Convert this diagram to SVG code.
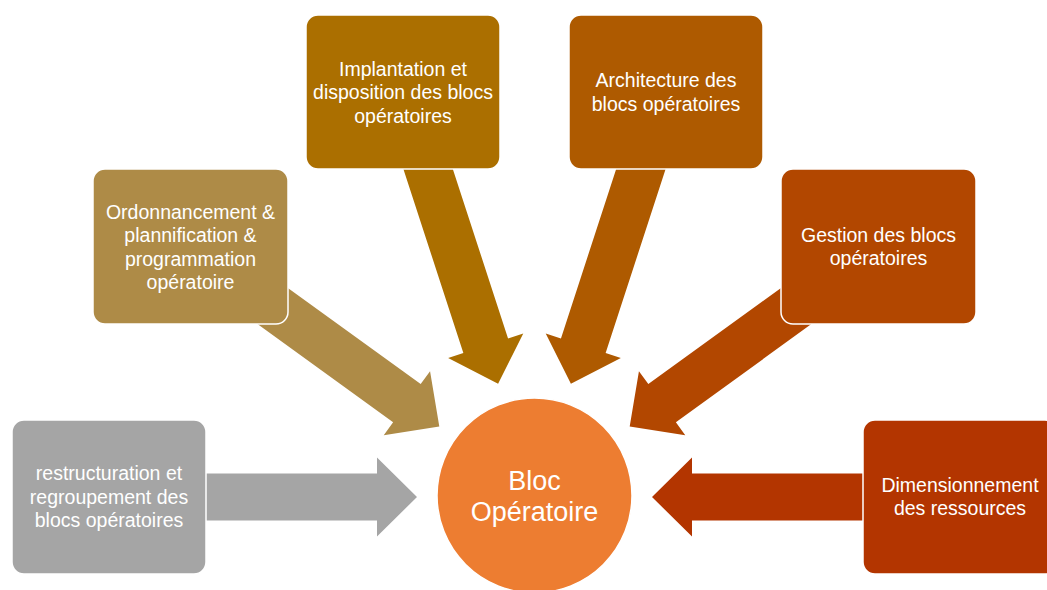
<svg xmlns="http://www.w3.org/2000/svg" width="1047" height="590" viewBox="0 0 1047 590">
<defs>
<style>
.box{stroke:#ffffff;stroke-width:1.5}
.lbl{font-family:"Liberation Sans",Arial,sans-serif;font-size:19.5px;fill:#ffffff;text-anchor:middle}
.big{font-family:"Liberation Sans",Arial,sans-serif;font-size:27px;fill:#ffffff;text-anchor:middle}
</style>
<polygon id="arr" points="-307,-23.5 -40,-23.5 -40,-39.5 0,0 -40,39.5 -40,23.5 -307,23.5"/>
</defs>
<rect width="1047" height="590" fill="#ffffff"/>
<g id="connectors">
<use href="#arr" fill="#a5a5a5" transform="translate(417,497)"/>
<use href="#arr" fill="#ae8b47" transform="translate(439.3,426.6) rotate(35.9)"/>
<use href="#arr" fill="#ab6f00" transform="translate(498.1,383.8) rotate(71.95)"/>
<use href="#arr" fill="#ae5a00" transform="translate(570.9,383.8) rotate(108.05)"/>
<use href="#arr" fill="#b24700" transform="translate(629.7,426.6) rotate(144.1)"/>
<use href="#arr" fill="#b33500" transform="translate(652,497) rotate(180)"/>
</g>
<g id="node-center">
<circle cx="534.5" cy="495.5" r="97.5" fill="#ed7d31" stroke="#ffffff" stroke-width="1.5"/>
<text class="big" x="534.5" y="490">Bloc</text>
<text class="big" x="534.5" y="521">Opératoire</text>
</g>
<g id="node-restructuration">
<rect class="box" x="12" y="420" width="194" height="154" rx="12" fill="#a5a5a5"/>
<text class="lbl" x="109" y="480">restructuration et</text>
<text class="lbl" x="109" y="503.5">regroupement des</text>
<text class="lbl" x="109" y="527">blocs opératoires</text>
</g>
<g id="node-ordonnancement">
<rect class="box" x="93" y="169" width="195" height="155" rx="12" fill="#ae8b47"/>
<text class="lbl" x="190.5" y="218.5">Ordonnancement &amp;</text>
<text class="lbl" x="190.5" y="242">plannification &amp;</text>
<text class="lbl" x="190.5" y="265.5">programmation</text>
<text class="lbl" x="190.5" y="289">opératoire</text>
</g>
<g id="node-implantation">
<rect class="box" x="306" y="15" width="194" height="154" rx="12" fill="#ab6f00"/>
<text class="lbl" x="403" y="75.5">Implantation et</text>
<text class="lbl" x="403" y="99">disposition des blocs</text>
<text class="lbl" x="403" y="122.5">opératoires</text>
</g>
<g id="node-architecture">
<rect class="box" x="569" y="15" width="194" height="154" rx="12" fill="#ae5a00"/>
<text class="lbl" x="666" y="87">Architecture des</text>
<text class="lbl" x="666" y="110.5">blocs opératoires</text>
</g>
<g id="node-gestion">
<rect class="box" x="781" y="169" width="195" height="155" rx="12" fill="#b24700"/>
<text class="lbl" x="878.5" y="241.5">Gestion des blocs</text>
<text class="lbl" x="878.5" y="265">opératoires</text>
</g>
<g id="node-dimensionnement">
<rect class="box" x="863" y="420" width="194" height="154" rx="12" fill="#b33500"/>
<text class="lbl" x="960" y="491.5">Dimensionnement</text>
<text class="lbl" x="960" y="515">des ressources</text>
</g>
</svg>
